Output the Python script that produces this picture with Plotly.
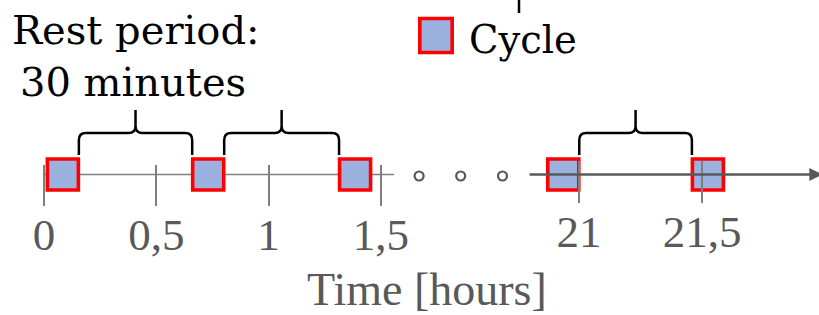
import plotly.graph_objects as go

# ---------------- data ----------------
left_tick_vals = [0, 0.5, 1, 1.5]          # hours, first segment
right_tick_vals = [21, 21.5]               # hours, second segment
cycle_times_left = [0.084, 0.731, 1.385]   # cycle centres (hours)
cycle_times_right = [20.936, 21.524]       # cycle centres (hours)
ellipsis_times = [20.350, 20.519, 20.689]  # "..." break markers
rest_label = "Rest period:"
rest_value = "30 minutes"
legend_label = "Cycle"
axis_title = "Time [hours]"

# ---------------- geometry / style ----------------
W, H = 819, 315
L0_PX, L_SCALE = 44.0, 224.6     # pixel of t=0, px per hour (left segment)
R21_PX, R_SCALE = 579.0, 246.0   # pixel of t=21, px per hour (right segment)
AXIS_Y = 174.5
LEFT_AXIS_END = 1.558
RIGHT_AXIS_START, RIGHT_AXIS_END = 20.793, 21.99
SQ_FILL = "#9BB2E0"
SQ_EDGE = "#FF0000"
GRAY = "#595959"
LIGHT = "#7F7F7F"
SERIF = "Liberation Serif"
LABEL_FONT = "DejaVu Serif"

left_range = [(0 - L0_PX) / L_SCALE, (W - L0_PX) / L_SCALE]
right_range = [21 + (0 - R21_PX) / R_SCALE, 21 + (W - R21_PX) / R_SCALE]

fig = go.Figure()

# axis lines
fig.add_trace(go.Scatter(x=[0, LEFT_AXIS_END], y=[AXIS_Y, AXIS_Y], mode="lines",
                         line=dict(color=LIGHT, width=1.5), xaxis="x", yaxis="y",
                         hoverinfo="skip", showlegend=False))

# ellipsis dots
fig.add_trace(go.Scatter(x=ellipsis_times, y=[AXIS_Y + 1.5] * len(ellipsis_times),
                         mode="markers", xaxis="x2", yaxis="y",
                         marker=dict(symbol="circle-open", size=9, color=GRAY,
                                     line=dict(width=2.2, color=GRAY)),
                         hoverinfo="skip", showlegend=False))

# cycles
sq = dict(symbol="square", size=31, color=SQ_FILL, line=dict(color=SQ_EDGE, width=3.6))
fig.add_trace(go.Scatter(x=cycle_times_left, y=[AXIS_Y] * len(cycle_times_left),
                         mode="markers", marker=sq, xaxis="x", yaxis="y",
                         name=legend_label, showlegend=False))
fig.add_trace(go.Scatter(x=cycle_times_right, y=[AXIS_Y] * len(cycle_times_right),
                         mode="markers", marker=sq, xaxis="x2", yaxis="y",
                         name=legend_label, showlegend=False))

# right axis line with arrow
fig.add_annotation(x=RIGHT_AXIS_END, y=AXIS_Y, ax=RIGHT_AXIS_START, ay=AXIS_Y,
                   xref="x2", yref="y", axref="x2", ayref="y", text="",
                   showarrow=True, arrowhead=2, arrowsize=1.1, arrowwidth=2.4,
                   arrowcolor=GRAY, standoff=0, startstandoff=0)


# braces for rest periods
def brace(xa, xb, scale, xref):
    rx = 7.0 / scale
    ry = 7.0
    xm = (xa + xb) / 2
    y0, yh, yt = 155.0, 133.0, 110.0
    p = (f"M{xa},{y0} L{xa},{yh + ry} Q{xa},{yh} {xa + rx},{yh} "
         f"L{xm - rx},{yh} Q{xm},{yh} {xm},{yh - ry} L{xm},{yt} "
         f"M{xm},{yh - ry} Q{xm},{yh} {xm + rx},{yh} "
         f"L{xb - rx},{yh} Q{xb},{yh} {xb},{yh + ry} L{xb},{y0}")
    fig.add_shape(type="path", path=p, xref=xref, yref="y",
                  line=dict(color="black", width=2.5))


HALF = 16.0
for times, scale, xref in [(cycle_times_left, L_SCALE, "x"), (cycle_times_right, R_SCALE, "x2")]:
    for a, b in zip(times[:-1], times[1:]):
        brace(a + HALF / scale, b - HALF / scale, scale, xref)

# small stem at the top (cut off bracket)
fig.add_shape(type="line", xref="paper", yref="y", x0=519 / W, x1=519 / W, y0=0, y1=13,
              line=dict(color="black", width=2.5))

# legend swatch + text
fig.add_shape(type="rect", xref="paper", yref="y", x0=419.8 / W, x1=452.2 / W, y0=18.5, y1=52.5,
              fillcolor=SQ_FILL, line=dict(color=SQ_EDGE, width=3.6))
fig.add_annotation(x=467 / W, y=39, xref="paper", yref="y", text=legend_label, showarrow=False,
                   xanchor="left", yanchor="middle", font=dict(family=LABEL_FONT, size=38.5, color="black"))

# rest period text
fig.add_annotation(x=10 / W, y=30, xref="paper", yref="y", text=rest_label, showarrow=False,
                   xanchor="left", yanchor="middle", font=dict(family=LABEL_FONT, size=40, color="black"))
fig.add_annotation(x=18 / W, y=82, xref="paper", yref="y", text=rest_value, showarrow=False,
                   xanchor="left", yanchor="middle", font=dict(family=LABEL_FONT, size=40, color="black"))

# axis title
fig.add_annotation(x=426.5 / W, y=289.5, xref="paper", yref="y", text=axis_title, showarrow=False,
                   xanchor="center", yanchor="middle", font=dict(family=SERIF, size=46, color=GRAY))

fig.update_layout(
    width=W, height=H, autosize=False,
    margin=dict(l=0, r=0, t=0, b=0, pad=0),
    paper_bgcolor="white", plot_bgcolor="white",
    separators=",.",
    showlegend=False,
    xaxis=dict(range=left_range, domain=[0, 1], anchor="free", position=1 - 164 / H,
               tickmode="array", tickvals=left_tick_vals, ticks="outside", ticklen=41,
               tickwidth=1.5, tickcolor=LIGHT, showline=False, showgrid=False, zeroline=False,
               ticklabelstandoff=-10,
               tickfont=dict(family=SERIF, size=45, color=GRAY), fixedrange=True),
    xaxis2=dict(range=right_range, domain=[0, 1], overlaying="x", anchor="free",
                position=1 - 160 / H, side="bottom",
                tickmode="array", tickvals=right_tick_vals, ticks="outside", ticklen=42,
                tickwidth=1.5, tickcolor=LIGHT, showline=False, showgrid=False, zeroline=False,
                ticklabelstandoff=-10,
                tickfont=dict(family=SERIF, size=45, color=GRAY), fixedrange=True),
    yaxis=dict(range=[H, 0], domain=[0, 1], showgrid=False, zeroline=False, showline=False,
               showticklabels=False, ticks="", fixedrange=True),
)

fig.write_html("out.html", config={"displayModeBar": False},
               post_script="document.body.style.margin='0';")
